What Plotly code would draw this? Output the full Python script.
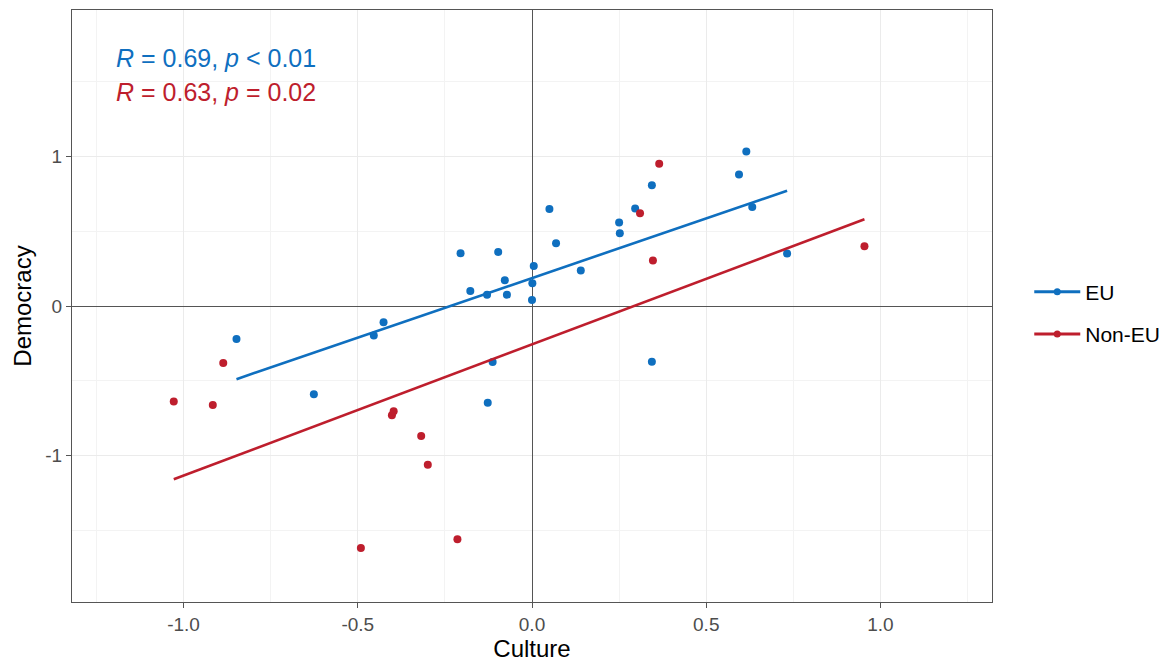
import numpy as np
import plotly.graph_objects as go

# ---- data ----
eu_culture = [-0.848, -0.626, -0.454, -0.426, -0.205, -0.177, -0.129, -0.127, -0.113,
              -0.097, -0.078, -0.072, 0.005, 0.001, 0.000, 0.050, 0.069, 0.140,
              0.250, 0.252, 0.296, 0.344, 0.344, 0.594, 0.615, 0.632, 0.732]
eu_democracy = [-0.220, -0.591, -0.198, -0.109, 0.353, 0.100, 0.076, -0.648, -0.375,
                0.362, 0.173, 0.076, 0.267, 0.153, 0.040, 0.649, 0.420, 0.238,
                0.558, 0.487, 0.653, 0.807, -0.373, 0.880, 1.033, 0.662, 0.351]
non_culture = [-1.028, -0.916, -0.886, -0.491, -0.402, -0.397, -0.318, -0.299, -0.214,
               0.310, 0.347, 0.365, 0.954]
non_democracy = [-0.638, -0.662, -0.382, -1.618, -0.731, -0.704, -0.869, -1.062, -1.560,
                 0.620, 0.304, 0.951, 0.400]

groups = ["EU", "Non-EU"]
colors = ["#0F6FBF", "#BE1E2D"]
stat_labels = ["<i>R</i> = 0.69, <i>p</i> < 0.01", "<i>R</i> = 0.63, <i>p</i> = 0.02"]

x_ticks = [-1.0, -0.5, 0.0, 0.5, 1.0]
x_ticktext = ["-1.0", "-0.5", "0.0", "0.5", "1.0"]
y_ticks = [-1, 0, 1]
y_ticktext = ["-1", "0", "1"]

fig = go.Figure()
series = [(eu_culture, eu_democracy), (non_culture, non_democracy)]
for (xs, ys), name, col in zip(series, groups, colors):
    xs = np.array(xs); ys = np.array(ys)
    slope, icpt = np.polyfit(xs, ys, 1)
    xl = np.array([xs.min(), xs.max()])
    fig.add_trace(go.Scatter(x=xl, y=icpt + slope * xl, mode="lines",
                             line=dict(color=col, width=2.6), showlegend=False,
                             hoverinfo="skip"))
    fig.add_trace(go.Scatter(x=xs, y=ys, mode="markers",
                             marker=dict(color=col, size=8), showlegend=False, name=name))
    fig.add_trace(go.Scatter(x=[None], y=[None], mode="lines+markers", name=name,
                             legendgroup=name,
                             line=dict(color=col, width=3),
                             marker=dict(color=col, size=7)))

for i, (lab, col) in enumerate(zip(stat_labels, colors)):
    fig.add_annotation(x=-1.2, y=1.66 - 0.227 * i, xref="x", yref="y", text=lab,
                       showarrow=False, xanchor="left", yanchor="middle",
                       font=dict(color=col, size=25, family="Arial"))

axis_common = dict(showline=True, linecolor="#555555", linewidth=1, mirror=True,
                   ticks="outside", ticklen=5, tickcolor="#555555",
                   tickfont=dict(size=19, color="#4D4D4D", family="Arial"),
                   showgrid=True, gridcolor="#EBEBEB", gridwidth=1.1,
                   zeroline=True, zerolinecolor="#555555", zerolinewidth=1.2)

fig.update_xaxes(range=[-1.32, 1.32], tickvals=x_ticks, ticktext=x_ticktext,
                 minor=dict(tickvals=[-1.25, -0.75, -0.25, 0.25, 0.75, 1.25],
                            showgrid=True, gridcolor="#F3F3F3", gridwidth=0.8, ticks=""),
                 title=dict(text="Culture", font=dict(size=24, color="black", family="Arial"),
                            standoff=5),
                 **axis_common)
fig.update_yaxes(range=[-1.98, 1.98], tickvals=y_ticks, ticktext=y_ticktext,
                 minor=dict(tickvals=[-1.5, -0.5, 0.5, 1.5],
                            showgrid=True, gridcolor="#F3F3F3", gridwidth=0.8, ticks=""),
                 title=dict(text="Democracy", font=dict(size=24, color="black", family="Arial"),
                            standoff=6),
                 **axis_common)

fig.update_layout(width=1160, height=655, plot_bgcolor="white", paper_bgcolor="white",
                  margin=dict(l=64, r=176, t=2, b=61),
                  font=dict(family="Arial"),
                  legend=dict(x=1.0405, y=0.488, xanchor="left", yanchor="middle",
                              font=dict(size=21, color="black", family="Arial"),
                              itemwidth=46, tracegroupgap=12, bgcolor="rgba(0,0,0,0)"))

fig.write_html("out.html")
